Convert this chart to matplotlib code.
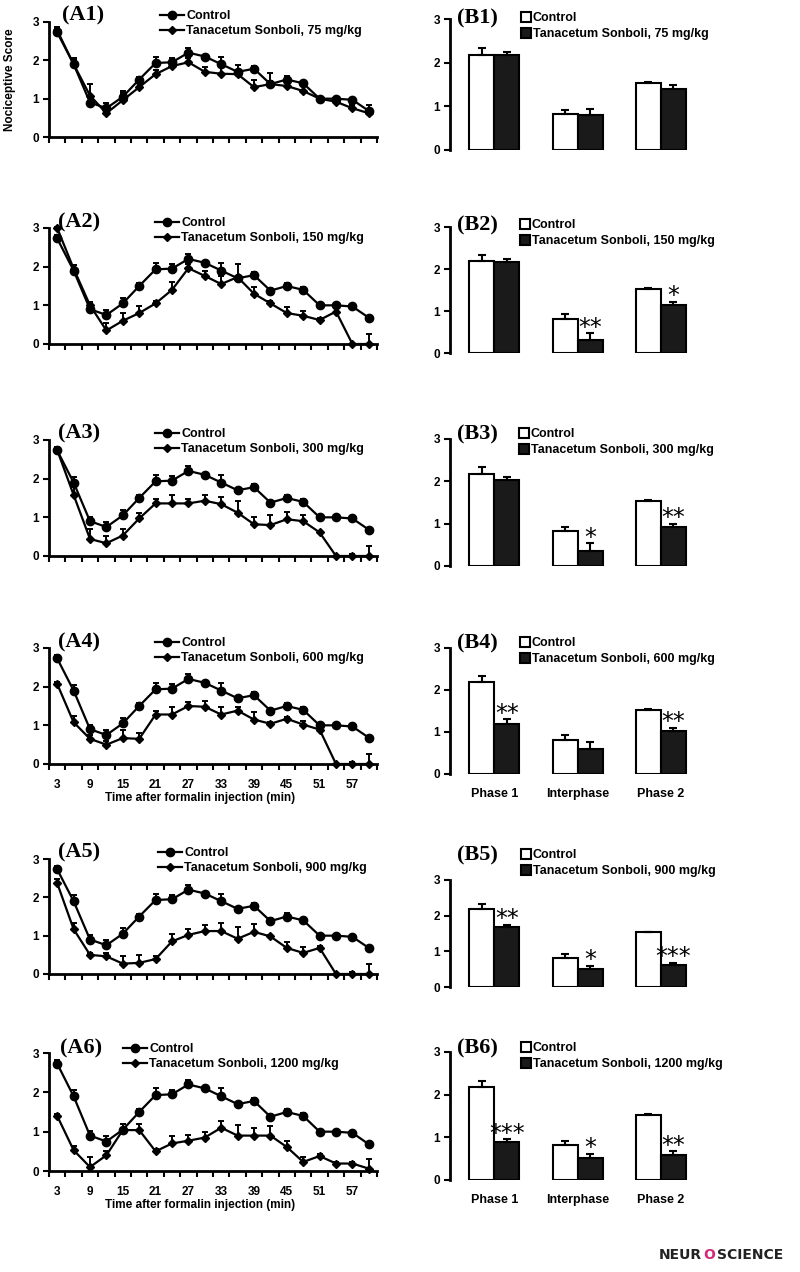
import numpy as np
import matplotlib.pyplot as plt
from matplotlib.lines import Line2D

plt.rcParams['font.family'] = ['Liberation Sans', 'DejaVu Sans']
plt.rcParams['font.weight'] = 'bold'

# ------------------------------------------------------------
# DATA
# ------------------------------------------------------------
minutes = list(range(3, 61, 3))
tick_minutes = [3, 9, 15, 21, 27, 33, 39, 45, 51, 57]
doses = ['75', '150', '300', '600', '900', '1200']

control = [2.73, 1.9, 0.9, 0.75, 1.05, 1.5, 1.93, 1.95, 2.2, 2.1,
           1.9, 1.7, 1.78, 1.38, 1.5, 1.4, 1.0, 1.0, 0.97, 0.68]
control_err = [0.1, 0.15, 0.12, 0.13, 0.15, 0.07, 0.17, 0.12, 0.12, 0.05,
               0.2, 0.06, 0.07, 0.08, 0.08, 0.07, 0.04, 0.05, 0.05, 0.05]

ts_75 = [2.78, 1.9, 1.08, 0.62, 0.96, 1.3, 1.64, 1.85, 1.95, 1.7,
         1.65, 1.64, 1.3, 1.38, 1.33, 1.2, 1.0, 0.92, 0.75, 0.62]
ts_75_err = [0.08, 0.1, 0.3, 0.1, 0.2, 0.1, 0.12, 0.1, 0.1, 0.12,
             0.3, 0.25, 0.2, 0.28, 0.15, 0.15, 0.04, 0.05, 0.08, 0.22]

ts_150 = [3.0, 1.95, 1.0, 0.35, 0.6, 0.8, 1.05, 1.4, 1.96, 1.76,
          1.55, 1.73, 1.3, 1.05, 0.8, 0.73, 0.62, 0.84, 0.0, 0.0]
ts_150_err = [0.02, 0.1, 0.08, 0.2, 0.2, 0.18, 0.06, 0.2, 0.1, 0.12,
              0.2, 0.35, 0.18, 0.05, 0.15, 0.12, 0.05, 0.1, 0.0, 0.25]

ts_300 = [2.74, 1.58, 0.44, 0.33, 0.53, 0.97, 1.36, 1.36, 1.36, 1.43,
          1.34, 1.12, 0.82, 0.8, 0.95, 0.9, 0.61, 0.0, 0.0, 0.0]
ts_300_err = [0.02, 0.2, 0.25, 0.2, 0.18, 0.15, 0.12, 0.22, 0.12, 0.15,
              0.18, 0.3, 0.2, 0.25, 0.18, 0.15, 0.02, 0.0, 0.05, 0.25]

ts_600 = [2.07, 1.08, 0.65, 0.5, 0.67, 0.65, 1.28, 1.28, 1.5, 1.48,
          1.28, 1.38, 1.15, 1.04, 1.17, 1.02, 0.89, 0.0, 0.0, 0.0]
ts_600_err = [0.05, 0.15, 0.1, 0.1, 0.2, 0.15, 0.1, 0.2, 0.1, 0.15,
              0.2, 0.1, 0.2, 0.05, 0.05, 0.1, 0.05, 0.0, 0.05, 0.25]

ts_900 = [2.37, 1.17, 0.5, 0.46, 0.27, 0.29, 0.39, 0.85, 1.02, 1.12,
          1.12, 0.92, 1.1, 0.98, 0.68, 0.55, 0.68, 0.0, 0.0, 0.0]
ts_900_err = [0.1, 0.15, 0.05, 0.08, 0.2, 0.2, 0.08, 0.2, 0.15, 0.15,
              0.2, 0.3, 0.2, 0.05, 0.15, 0.15, 0.04, 0.0, 0.05, 0.25]

ts_1200 = [1.4, 0.53, 0.1, 0.4, 1.04, 1.04, 0.5, 0.7, 0.77, 0.85,
           1.1, 0.9, 0.9, 0.9, 0.61, 0.23, 0.38, 0.19, 0.19, 0.06]
ts_1200_err = [0.05, 0.1, 0.25, 0.1, 0.15, 0.15, 0.05, 0.2, 0.15, 0.15,
               0.18, 0.28, 0.2, 0.25, 0.15, 0.12, 0.04, 0.05, 0.05, 0.25]

phases = ['Phase 1', 'Interphase', 'Phase 2']
bar_control = [2.18, 0.82, 1.53]
bar_control_err = [0.15, 0.1, 0.02]
bar_75 = [2.17, 0.8, 1.4]
bar_75_err = [0.08, 0.15, 0.08]
bar_150 = [2.17, 0.32, 1.14]
bar_150_err = [0.06, 0.15, 0.08]
bar_300 = [2.02, 0.36, 0.92]
bar_300_err = [0.08, 0.18, 0.08]
bar_600 = [1.2, 0.59, 1.02]
bar_600_err = [0.1, 0.17, 0.08]
bar_900 = [1.67, 0.5, 0.62]
bar_900_err = [0.08, 0.1, 0.05]
bar_1200 = [0.88, 0.51, 0.59]
bar_1200_err = [0.07, 0.1, 0.08]
stars_75 = ['', '', '']
stars_150 = ['', '**', '*']
stars_300 = ['', '*', '**']
stars_600 = ['**', '', '**']
stars_900 = ['**', '*', '***']
stars_1200 = ['***', '*', '**']

line_series = [(ts_75, ts_75_err), (ts_150, ts_150_err), (ts_300, ts_300_err),
               (ts_600, ts_600_err), (ts_900, ts_900_err), (ts_1200, ts_1200_err)]
bar_series = [(bar_75, bar_75_err, stars_75), (bar_150, bar_150_err, stars_150),
              (bar_300, bar_300_err, stars_300), (bar_600, bar_600_err, stars_600),
              (bar_900, bar_900_err, stars_900), (bar_1200, bar_1200_err, stars_1200)]

# ------------------------------------------------------------
# LAYOUT (pixel boxes: top/bottom of y-axis, legend x, legend rows)
# ------------------------------------------------------------
W, H = 800, 1272
a_rows = [(22, 137, 160, 15, 62), (228, 344, 155, 222, 58), (440, 556, 155, 433, 58),
          (648, 764, 155, 642, 58), (859, 974, 158, 852, 58), (1053, 1171, 123, 1048, 60)]
b_rows = [(19, 150, 522, 17), (227, 353, 521, 224), (439, 566, 520, 433),
          (648, 774, 521, 642), (880, 987, 522, 854), (1052, 1180, 522, 1047)]
A_LEFT, A_RIGHT = 49, 377
B_LEFT, B_RIGHT = 450, 736

fig = plt.figure(figsize=(W / 100, H / 100), dpi=100)


def px_axes(left, top, right, bottom):
    return fig.add_axes([left / W, 1 - bottom / H, (right - left) / W, (bottom - top) / H])


def style_y(ax):
    ax.set_ylim(0, 3)
    ax.set_yticks([0, 1, 2, 3])
    ax.tick_params(axis='y', direction='out', length=4, width=1.5, labelsize=8.5, pad=3)
    ax.spines['left'].set_linewidth(2)
    ax.spines['top'].set_visible(False)
    ax.spines['right'].set_visible(False)


n = len(minutes)
zeros = np.zeros(n)

for i, (top, bottom, lx, ly, plx) in enumerate(a_rows):
    treat, treat_err = line_series[i]
    ax = px_axes(A_LEFT, top, A_RIGHT, bottom)
    style_y(ax)
    ax.set_xlim(1.5, 61.5)
    ax.spines['bottom'].set_linewidth(2)

    ax.errorbar(minutes, control, yerr=[zeros, control_err], fmt='-o', color='black',
                ms=6, lw=1.6, elinewidth=1.4, capsize=2.5, capthick=1.4, clip_on=False, zorder=3)
    ax.errorbar(minutes, treat, yerr=[zeros, treat_err], fmt='-D', color='black',
                ms=3.6, lw=1.6, elinewidth=1.4, capsize=2.5, capthick=1.4, clip_on=False, zorder=3)

    ax.set_xticks(np.arange(1.5, 62, 3))
    ax.tick_params(axis='x', which='major', direction='out', length=4, width=1.5, labelbottom=False)
    if i in (3, 5):
        ax.set_xticks(tick_minutes, minor=True)
        ax.set_xticklabels([str(t) for t in tick_minutes], minor=True)
        ax.tick_params(axis='x', which='minor', length=0, labelsize=8.5, pad=11)
        fig.text(200 / W, 1 - (bottom + 34) / H, 'Time after formalin injection (min)',
                 ha='center', va='center', fontsize=8.5)
    else:
        ax.set_xticks([], minor=True)

    handles = [Line2D([], [], color='black', marker='o', ms=6, lw=1.6),
               Line2D([], [], color='black', marker='D', ms=3.6, lw=1.6)]
    labels = ['Control', 'Tanacetum Sonboli, ' + doses[i] + ' mg/kg']
    fig.legend(handles, labels, loc='center left',
               bbox_to_anchor=(lx / W, 1 - (ly + 8.5) / H), bbox_transform=fig.transFigure,
               frameon=False, borderpad=0, borderaxespad=0, handlelength=1.9,
               handletextpad=0.2, labelspacing=0.25, fontsize=9)
    fig.text(plx / W, 1 - ly / H, '(A%d)' % (i + 1), ha='left', va='center',
             family='Liberation Serif', fontweight='bold', fontsize=16)

fig.text(10 / W, 1 - 80 / H, 'Nociceptive Score', rotation=90, ha='center', va='center', fontsize=8.5)

xb = np.arange(len(phases))
w = 0.3
for i, (top, bottom, lx, ly) in enumerate(b_rows):
    treat, treat_err, stars = bar_series[i]
    ax = px_axes(B_LEFT, top, B_RIGHT, bottom)
    style_y(ax)
    ax.spines['bottom'].set_visible(False)
    ax.set_xlim(-0.53, 2.9)
    ekw = dict(capsize=3, elinewidth=1.5, capthick=1.5, ecolor='black')
    ax.bar(xb - w / 2, bar_control, w, color='white', edgecolor='black', lw=1.5,
           yerr=[np.zeros(3), bar_control_err], error_kw=ekw)
    ax.bar(xb + w / 2, treat, w, color='#1a1a1a', edgecolor='black', lw=1.5,
           yerr=[np.zeros(3), treat_err], error_kw=ekw)
    for j, s in enumerate(stars):
        if s:
            ax.annotate(s, xy=(xb[j] + w / 2, treat[j] + treat_err[j]), xytext=(0, -1),
                        textcoords='offset points', ha='center', va='baseline',
                        family='DejaVu Sans', fontweight='normal', fontsize=17)
    ax.set_xticks(xb)
    if i in (3, 5):
        ax.set_xticklabels(phases)
        ax.tick_params(axis='x', length=0, labelsize=9, pad=10)
    else:
        ax.tick_params(axis='x', length=0, labelbottom=False)

    handles = [Line2D([], [], ls='none', marker='s', ms=7, mfc='white', mec='black', mew=1.5),
               Line2D([], [], ls='none', marker='s', ms=7, mfc='#1a1a1a', mec='black', mew=1.5)]
    labels = ['Control', 'Tanacetum Sonboli, ' + doses[i] + ' mg/kg']
    fig.legend(handles, labels, loc='center left',
               bbox_to_anchor=(lx / W, 1 - (ly + 9) / H), bbox_transform=fig.transFigure,
               frameon=False, borderpad=0, borderaxespad=0, handlelength=0.7,
               handletextpad=0.15, labelspacing=0.3, fontsize=9)
    fig.text(457 / W, 1 - (ly + 1) / H, '(B%d)' % (i + 1), ha='left', va='center',
             family='Liberation Serif', fontweight='bold', fontsize=16)

# journal logo
fig.text(659 / W, 1 - 1255 / H, 'NEUR', ha='left', va='center', family='DejaVu Sans',
         fontweight='bold', fontsize=10, color='#222222')
fig.text(703 / W, 1 - 1255 / H, 'O', ha='left', va='center', family='DejaVu Sans',
         fontweight='bold', fontsize=10, color='#d02a7a')
fig.text(717 / W, 1 - 1255 / H, 'SCIENCE', ha='left', va='center', family='DejaVu Sans',
         fontweight='bold', fontsize=10, color='#222222')

plt.savefig('out.png', dpi=100)
